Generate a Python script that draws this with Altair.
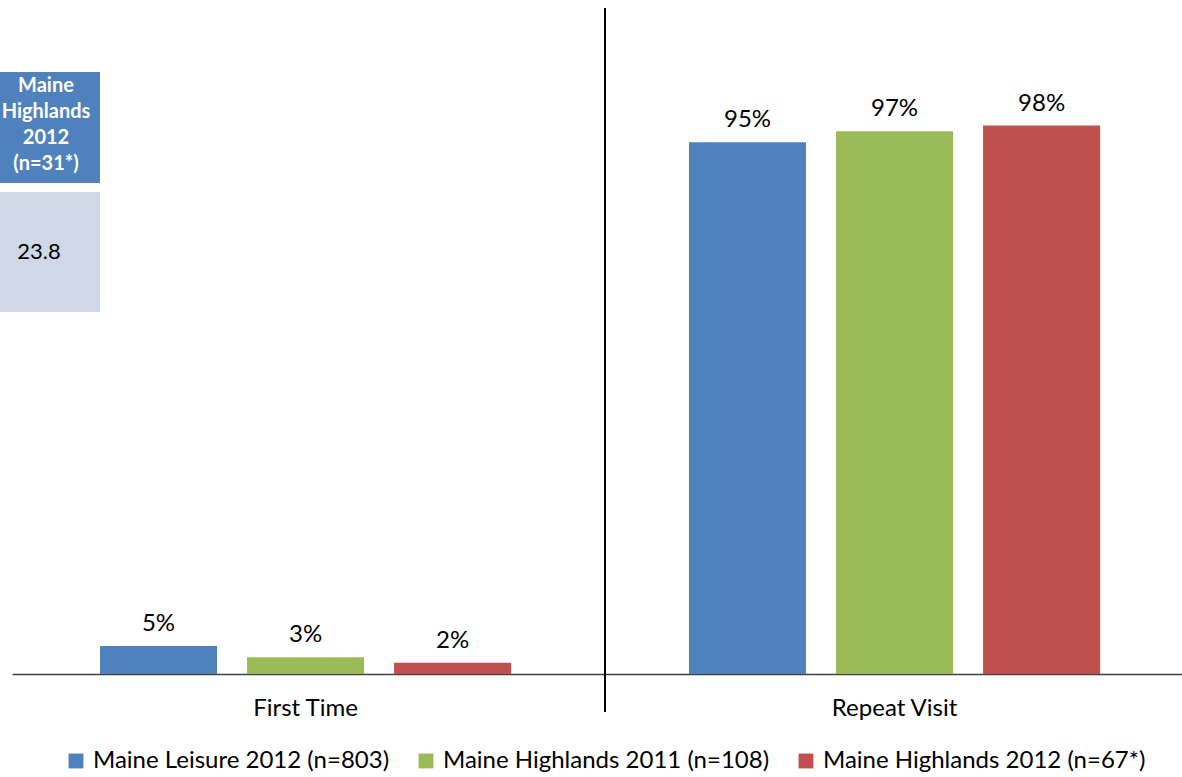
import altair as alt
import pandas as pd

categories = ["First Time", "Repeat Visit"]
series = ["Maine Leisure 2012 (n=803)", "Maine Highlands 2011 (n=108)", "Maine Highlands 2012 (n=67*)"]
first_time = [0.05, 0.03, 0.02]
repeat_visit = [0.95, 0.97, 0.98]
colors = ["#4F81BD", "#9BBB59", "#C0504D"]

# fragment of a table visible at the top-left of the original image
table_header = "Maine\nHighlands\n2012\n(n=31*)"
table_value = "23.8"

rows = []
for s, a, b in zip(series, first_time, repeat_visit):
    rows.append({"category": categories[0], "series": s, "value": a})
    rows.append({"category": categories[1], "series": s, "value": b})
df = pd.DataFrame(rows)

FONT = "Lato"

x_enc = alt.X("category:N", sort=categories,
              scale=alt.Scale(paddingInner=0.302, paddingOuter=0.1442, align=0.518),
              axis=alt.Axis(title=None, labelAngle=0, ticks=False, labelPadding=22,
                            labelFontSize=24, labelFont=FONT, labelColor="#000000",
                            domainColor="#404040", domainWidth=1.5))
xo_enc = alt.XOffset("series:N", sort=series,
                     scale=alt.Scale(paddingInner=0.204, paddingOuter=0))
y_enc = alt.Y("value:Q", scale=alt.Scale(domain=[0, 1.19], nice=False), axis=None)

base = alt.Chart(df)

bars = base.mark_bar().encode(
    x=x_enc, xOffset=xo_enc, y=y_enc,
    color=alt.Color("series:N", sort=series,
                    scale=alt.Scale(domain=series, range=colors),
                    legend=alt.Legend(title=None, orient="none", direction="horizontal",
                                      legendX=52, legendY=741, symbolType="square",
                                      symbolSize=220, symbolStrokeWidth=0, symbolOpacity=1,
                                      labelFontSize=24, labelFont=FONT, labelColor="#000000",
                                      columnPadding=24, labelOffset=5, labelLimit=400)),
)

labels = base.mark_text(baseline="alphabetic", dy=-15, fontSize=24, font=FONT,
                        color="#000000").encode(
    x=x_enc, xOffset=xo_enc, y=y_enc,
    text=alt.Text("value:Q", format=".0%"),
)

one = alt.Chart(pd.DataFrame({"k": [0]}))

separator = one.mark_rule(color="#000000", strokeWidth=2).encode(
    x=alt.value(593), y=alt.value(0), y2=alt.value(704))

hdr_rect = one.mark_rect(color="#4F81BD").encode(
    x=alt.value(-12), x2=alt.value(88), y=alt.value(64), y2=alt.value(175))
val_rect = one.mark_rect(color="#D0D8E8").encode(
    x=alt.value(-12), x2=alt.value(88), y=alt.value(184), y2=alt.value(304))
hdr_text = one.mark_text(lineBreak="\n", fontSize=20, fontWeight="bold", font=FONT,
                         color="white", lineHeight=26, baseline="top").encode(
    x=alt.value(34), y=alt.value(68), text=alt.value(table_header))
val_text = one.mark_text(fontSize=22, font=FONT, color="#000000").encode(
    x=alt.value(27), y=alt.value(244), text=alt.value(table_value))

chart = alt.layer(bars, labels, separator, hdr_rect, val_rect, hdr_text, val_text).properties(
    width=1170, height=666,
    autosize=alt.AutoSizeParams(type="none"),
    padding={"left": 12, "top": 8, "right": 0, "bottom": 103},
    background="white",
).configure_view(strokeWidth=0, stroke="transparent")

chart.save("out.html", embed_options={"renderer": "svg", "actions": False})
